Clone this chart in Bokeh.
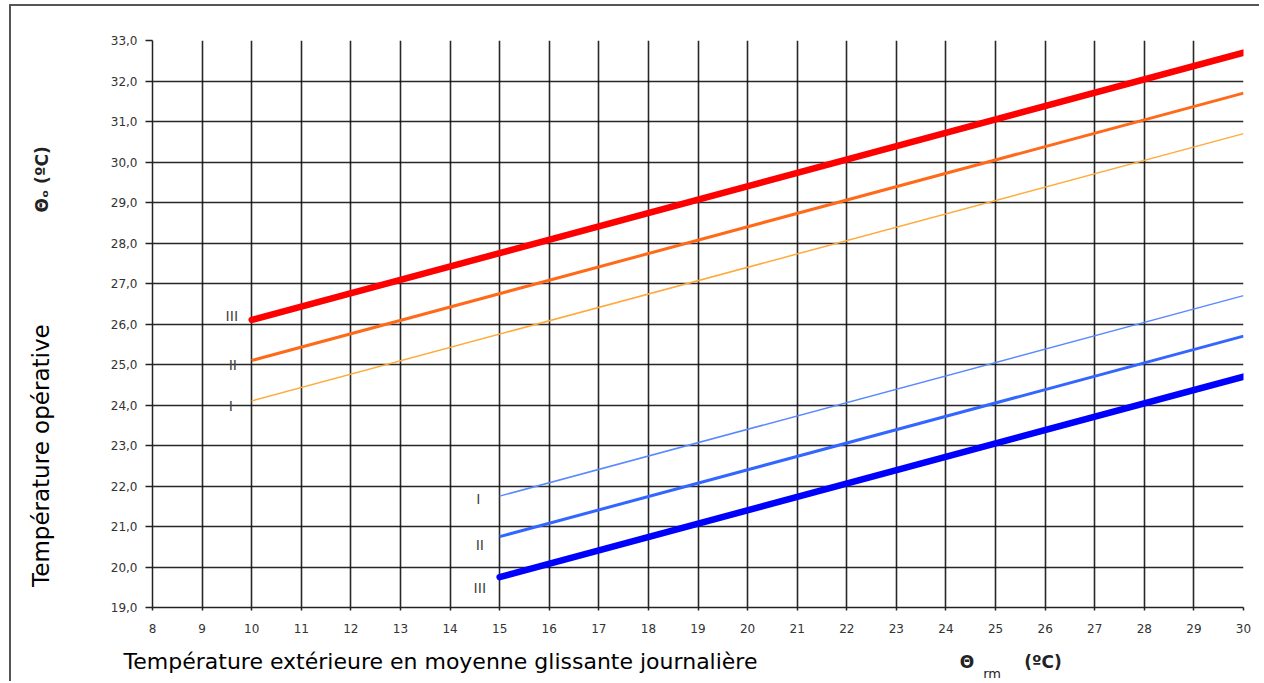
from bokeh.plotting import figure
from bokeh.models import FixedTicker, Label, Range1d, LinearAxis
from bokeh.embed import file_html
from bokeh.resources import INLINE

# --- data ---
x_upper = [10, 30]
upper_I = [24.1, 30.7]
upper_II = [25.1, 31.7]
upper_III = [26.1, 32.7]

x_lower = [15, 30]
lower_I = [21.75, 26.7]
lower_II = [20.75, 25.7]
lower_III = [19.75, 24.7]

x_ticks = list(range(8, 31))
y_ticks = list(range(19, 34))
y_tick_labels = ["19,0", "20,0", "21,0", "22,0", "23,0", "24,0", "25,0", "26,0",
                 "27,0", "28,0", "29,0", "30,0", "31,0", "32,0", "33,0"]

cat_labels = ["III", "II", "I", "I", "II", "III"]
cat_x = [9.6, 9.62, 9.58, 14.57, 14.6, 14.6]
cat_y = [26.2, 25.0, 24.0, 21.7, 20.55, 19.5]

W, H = 1250, 677
p = figure(width=W, height=H, output_backend="svg", toolbar_location=None,
           x_range=Range1d(8, 30), y_range=Range1d(19, 33),
           min_border_left=141, min_border_right=18, min_border_top=34,
           min_border_bottom=76)
p.styles = {"border-left": "2px solid #555", "border-top": "2px solid #555",
            "margin-left": "9px", "margin-top": "4px"}
p.outline_line_color = None
p.background_fill_color = "white"
p.border_fill_color = "white"

p.xaxis.ticker = FixedTicker(ticks=x_ticks)
p.yaxis.ticker = FixedTicker(ticks=y_ticks)
p.yaxis.major_label_overrides = {t: l for t, l in zip(y_ticks, y_tick_labels)}
p.xgrid.ticker = FixedTicker(ticks=x_ticks[:-1])
p.ygrid.ticker = FixedTicker(ticks=y_ticks)
for g in (p.xgrid, p.ygrid):
    g.grid_line_color = "#111111"
    g.grid_line_width = 1.6
    g.grid_line_alpha = 0.9

for ax in (p.xaxis, p.yaxis):
    ax.axis_line_color = "#222222"
    ax.axis_line_width = 1.5
    ax.major_tick_line_color = "#222222"
    ax.major_tick_line_width = 1.5
    ax.minor_tick_line_color = None
    ax.major_tick_in = 0
    ax.major_label_text_font = "DejaVu Sans"
    ax.major_label_text_font_size = "12px"
    ax.major_label_text_color = "#333333"
p.yaxis.major_tick_out = 7
p.yaxis.major_label_standoff = 8
p.xaxis.major_tick_out = 3
p.xaxis.major_label_standoff = 13

# upper lines
p.line(x_upper, upper_I, line_color="#ffaa3c", line_width=1.5)
p.line(x_upper, upper_II, line_color="#ff6a1a", line_width=3)
p.line(x_upper, upper_III, line_color="#ff0000", line_width=6.5, line_cap="round")
# lower lines
p.line(x_lower, lower_I, line_color="#5a88ff", line_width=1.5)
p.line(x_lower, lower_II, line_color="#3366ff", line_width=3)
p.line(x_lower, lower_III, line_color="#0000ff", line_width=6.5, line_cap="round")

for t, x, y in zip(cat_labels, cat_x, cat_y):
    p.add_layout(Label(x=x, y=y, text=t, text_align="center", text_baseline="middle",
                       text_font="Liberation Sans", text_font_size="15px",
                       text_color="#444444"))

# title texts placed as labels of extra, line-less axes
left_title_pos = [29.57]
left_title_txt = ["Θₒ (ºC)"]
left_sub_pos = [22.75]
left_sub_txt = ["Température opérative"]
bottom_title_pos = [13.808]
bottom_title_txt = ["Température extérieure en moyenne glissante journalière"]
bottom_unit_pos = [24.425, 25.957]
bottom_unit_txt = ["Θ", "(ºC)"]
bottom_subscript_pos = [24.929]
bottom_subscript_txt = ["rm"]


def text_axis(side, ticks, texts, font, size, bold, standoff, color="black"):
    ax = LinearAxis(ticker=FixedTicker(ticks=ticks),
                    major_label_overrides={t: s for t, s in zip(ticks, texts)})
    ax.axis_line_color = None
    ax.major_tick_line_color = None
    ax.minor_tick_line_color = None
    ax.major_tick_out = 0
    ax.major_tick_in = 0
    ax.major_label_text_font = font
    ax.major_label_text_font_size = size
    ax.major_label_text_font_style = "bold" if bold else "normal"
    ax.major_label_text_color = color
    ax.major_label_standoff = standoff
    if side == "left":
        ax.major_label_orientation = "vertical"
    p.add_layout(ax, side)
    return ax


text_axis("left", left_title_pos, left_title_txt, "DejaVu Sans", "17px", True, 55, "#222222")
text_axis("left", left_sub_pos, left_sub_txt, "DejaVu Sans", "23px", False, -24)
text_axis("below", bottom_title_pos, bottom_title_txt, "DejaVu Sans", "22px", False, 13)
text_axis("below", bottom_unit_pos, bottom_unit_txt, "DejaVu Sans", "17px", True, -25, "#222222")
text_axis("below", bottom_subscript_pos, bottom_subscript_txt, "DejaVu Sans", "13px", False, -11, "#222222")

open("out.html", "w").write(file_html(p, INLINE))
